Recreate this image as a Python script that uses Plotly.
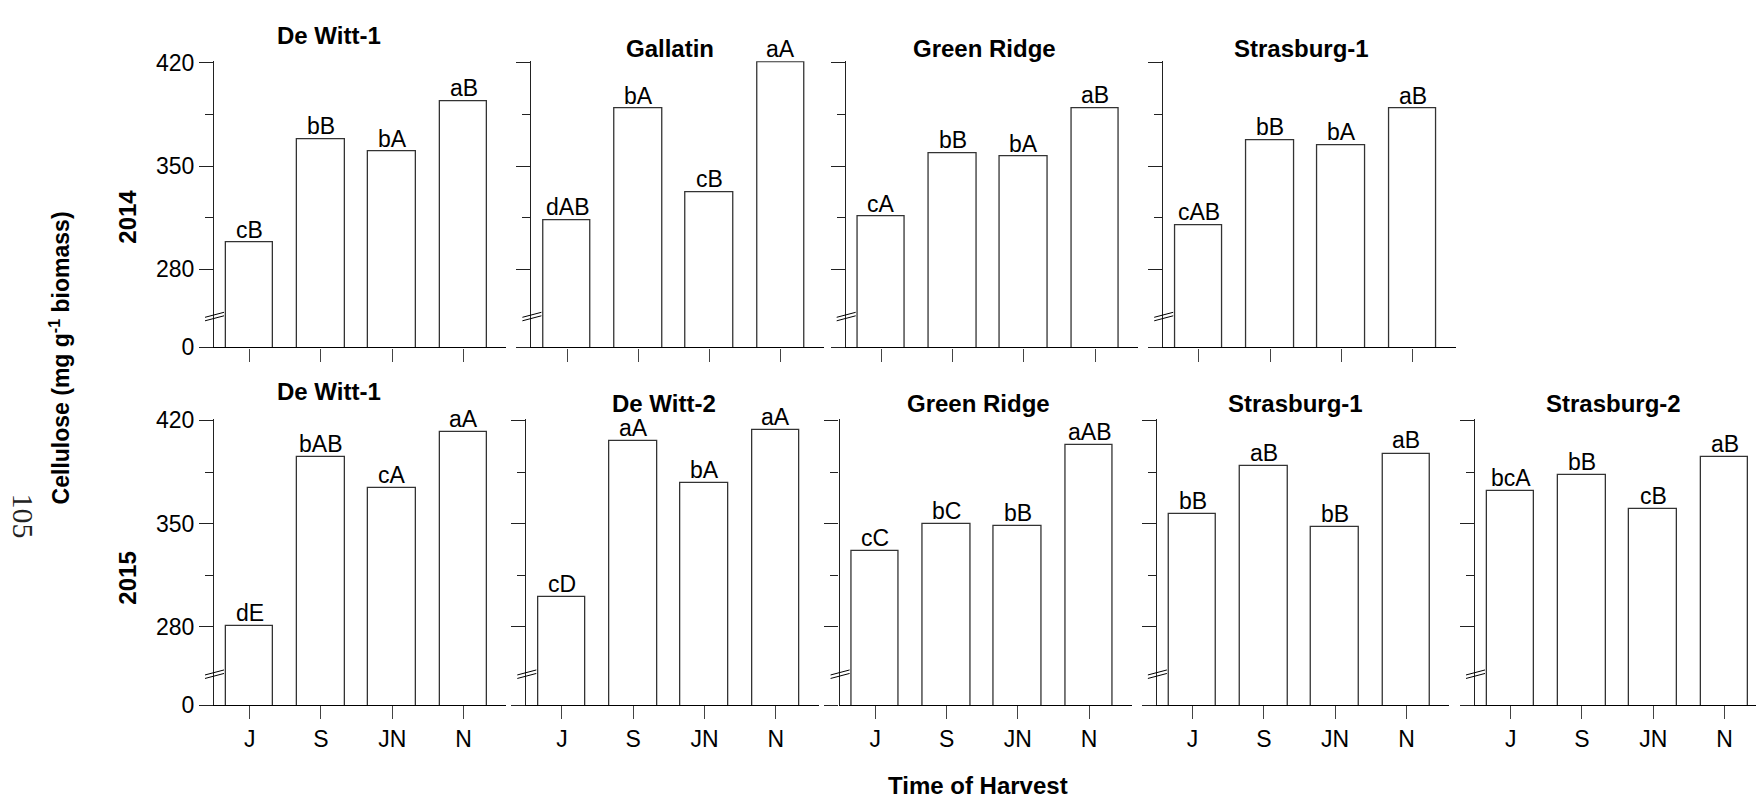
import plotly.graph_objects as go

# Harvest timing categories
harvest = ["J", "S", "JN", "N"]

# 2014 cellulose (mg g-1 biomass) and mean-separation letters
dw1_2014 = [298.0, 368.4, 359.7, 393.8]
dw1_2014_sig = ["cB", "bB", "bA", "aB"]
gal_2014 = [313.5, 388.9, 332.3, 420.4]
gal_2014_sig = ["dAB", "bA", "cB", "aA"]
gr_2014 = [315.7, 358.7, 356.4, 389.2]
gr_2014_sig = ["cA", "bB", "bA", "aB"]
s1_2014 = [309.8, 367.5, 364.2, 388.9]
s1_2014_sig = ["cAB", "bB", "bA", "aB"]

# 2015 cellulose (mg g-1 biomass) and mean-separation letters
dw1_2015 = [280.7, 395.0, 373.9, 411.9]
dw1_2015_sig = ["dE", "bAB", "cA", "aA"]
dw2_2015 = [300.2, 406.2, 377.6, 413.4]
dw2_2015_sig = ["cD", "aA", "bA", "aA"]
gr_2015 = [331.6, 349.7, 348.3, 403.1]
gr_2015_sig = ["cC", "bC", "bB", "aAB"]
s1_2015 = [356.7, 388.8, 347.9, 397.6]
s1_2015_sig = ["bB", "aB", "bB", "aB"]
s2_2015 = [371.9, 382.9, 360.0, 395.4]
s2_2015_sig = ["bcA", "bB", "cB", "aB"]

# Y axis tick labels (broken axis: "0" sits at the axis floor)
y_major = [280, 350, 420]
y_minor = [315, 385]
y_labels = ["0", "280", "350", "420"]

W, H = 1756, 809
FONT = "Liberation Sans, Arial, Helvetica, sans-serif"

# Broken axis: the visible scale starts at FLOOR, drawn as 0
FLOOR = 227.0
TOP = 421.0
PX_PER_UNIT = 1.52
BREAK_AT = FLOOR + 30 / PX_PER_UNIT

PANEL_W = 292.3
CAT_PX = 71.3

rows = {
    2014: dict(axis_y=346.7, xlabels=False),
    2015: dict(axis_y=715.3, xlabels=True),
}

panels = [
    # year, site, values, letters, y-axis pixel x, title centre (x, y) in pixels
    (2014, "De Witt-1", dw1_2014, dw1_2014_sig, 214.0, (328.6, 25.0)),
    (2014, "Gallatin", gal_2014, gal_2014_sig, 531.4, (670.0, 38.5)),
    (2014, "Green Ridge", gr_2014, gr_2014_sig, 845.7, (985.0, 38.5)),
    (2014, "Strasburg-1", s1_2014, s1_2014_sig, 1163.2, (1301.0, 38.5)),
    (2015, "De Witt-1", dw1_2015, dw1_2015_sig, 214.0, (328.6, 392.0)),
    (2015, "De Witt-2", dw2_2015, dw2_2015_sig, 526.3, (664.0, 405.0)),
    (2015, "Green Ridge", gr_2015, gr_2015_sig, 839.6, (978.6, 405.0)),
    (2015, "Strasburg-1", s1_2015, s1_2015_sig, 1156.9, (1295.7, 405.0)),
    (2015, "Strasburg-2", s2_2015, s2_2015_sig, 1475.0, (1613.0, 405.0)),
]

fig = go.Figure()
layout = {}
annotations = []
shapes = []

for i, (year, site, values, letters, left_px, title_xy) in enumerate(panels, start=1):
    row = rows[year]
    xa = "x" if i == 1 else f"x{i}"
    ya = "y" if i == 1 else f"y{i}"
    xkey = "xaxis" if i == 1 else f"xaxis{i}"
    ykey = "yaxis" if i == 1 else f"yaxis{i}"

    width_px = min(PANEL_W, W - left_px)
    x_dom = [left_px / W, min(1.0, (left_px + width_px) / W)]
    bottom_px = row["axis_y"]
    top_px = bottom_px - (TOP - FLOOR) * PX_PER_UNIT
    y_dom = [1 - bottom_px / H, 1 - top_px / H]
    first_col = left_px < 300

    fig.add_trace(go.Bar(
        x=harvest, y=values, xaxis=xa, yaxis=ya, width=0.667,
        marker=dict(color="white", line=dict(color="#333333", width=1.3)),
        showlegend=False, hoverinfo="x+y",
    ))

    # significance letters above each bar
    for cat, val, sig in zip(harvest, values, letters):
        annotations.append(dict(
            text=sig, x=cat, y=val, xref=xa, yref=ya,
            xanchor="center", yanchor="bottom", yshift=-2, showarrow=False,
            font=dict(family=FONT, size=23, color="black"),
        ))

    layout[xkey] = dict(
        domain=x_dom, anchor=ya, type="category",
        range=[-0.5, -0.5 + width_px / CAT_PX],
        showline=True, linecolor="black", linewidth=1.3,
        ticks="outside", ticklen=13, tickwidth=1.3, tickcolor="#444444",
        showticklabels=row["xlabels"],
        tickfont=dict(family=FONT, size=23, color="black"),
        showgrid=False, zeroline=False, fixedrange=True,
    )
    layout[ykey] = dict(
        domain=y_dom, anchor=xa, range=[FLOOR, TOP],
        tickmode="array", tickvals=[FLOOR] + y_major,
        ticktext=y_labels, showticklabels=first_col,
        tickfont=dict(family=FONT, size=23, color="black"),
        showline=True, linecolor="#222222", linewidth=1.3,
        ticks="outside", ticklen=14, tickwidth=1.3, tickcolor="#222222",
        minor=dict(tickmode="array", tickvals=y_minor, ticks="outside",
                   ticklen=8, tickwidth=1.3, tickcolor="#222222"),
        showgrid=False, zeroline=False, fixedrange=True,
    )

    # axis break marks
    for dy in (0.0, 3.5):
        shapes.append(dict(
            type="line", xref=f"{xa} domain", yref=ya,
            xsizemode="pixel", xanchor=0, x0=-9, x1=10,
            ysizemode="pixel", yanchor=BREAK_AT, y0=-2.5 + dy, y1=2.5 + dy,
            line=dict(color="black", width=1),
        ))

    annotations.append(dict(
        text=f"<b>{site}</b>", x=title_xy[0] / W, y=1 - title_xy[1] / H,
        xref="paper", yref="paper", xanchor="center", yanchor="middle",
        showarrow=False, font=dict(family=FONT, size=24, color="black"),
    ))

# Shared axis titles and row labels
shared = [
    dict(text="<b>Cellulose (mg g<sup>-1</sup> biomass)</b>", x=60 / W, y=1 - 358 / H,
         textangle=-90, font=dict(family=FONT, size=23, color="black")),
    dict(text="<b>2014</b>", x=128 / W, y=1 - 212 / H, textangle=-90,
         font=dict(family=FONT, size=24, color="black")),
    dict(text="<b>2015</b>", x=128 / W, y=1 - 585 / H, textangle=-90,
         font=dict(family=FONT, size=24, color="black")),
    dict(text="<b>Time of Harvest</b>", x=978 / W, y=1 - 798 / H,
         font=dict(family=FONT, size=24, color="black")),
    dict(text="105", x=23 / W, y=1 - 520 / H, textangle=90,
         font=dict(family="Liberation Serif, Times New Roman, serif", size=30, color="#222222")),
]
for a in shared:
    a.update(xref="paper", yref="paper", xanchor="center", yanchor="middle", showarrow=False)
annotations += shared

fig.update_layout(
    width=W, height=H, margin=dict(l=0, r=0, t=0, b=0),
    paper_bgcolor="white", plot_bgcolor="white",
    annotations=annotations, shapes=shapes, bargap=0,
    **layout,
)

# keep the page exactly the size of the figure
page_css = (
    "document.documentElement.style.margin='0';"
    "document.body.style.margin='0';"
    "document.body.style.padding='0';"
    "document.documentElement.style.overflow='hidden';"
    "document.body.style.overflow='hidden';"
)
fig.write_html("out.html", post_script=page_css)
